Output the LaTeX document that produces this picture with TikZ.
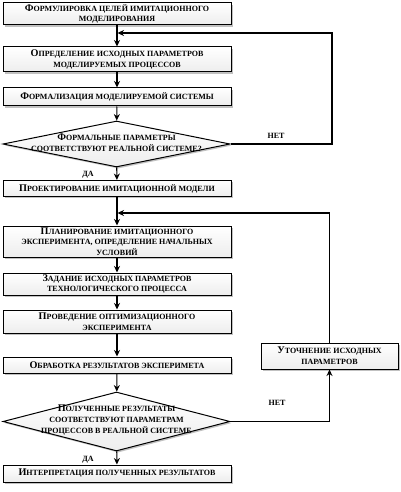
\documentclass[tikz,border=0pt]{standalone}
\usepackage{fontspec}
\setmainfont{Liberation Serif}
\usetikzlibrary{shapes.geometric,shadows,arrows.meta}
\newcommand{\Ini}[1]{{\fontsize{10.2}{10}\selectfont #1}}
\tikzset{
 shad/.style={drop shadow={shadow xshift=1.6pt, shadow yshift=-1.6pt, fill=gray!60, opacity=0.8}},
 box/.style={draw, line width=1pt, rectangle, minimum width=228pt, inner sep=0pt, align=center,
   font=\bfseries\fontsize{8}{10.8}\selectfont, top color=white, bottom color=gray!14, shad},
 dia/.style={draw, diamond, line width=1pt, minimum width=227pt, inner sep=0pt,
   top color=white, bottom color=gray!14, shad},
 dtext/.style={align=center, inner sep=0pt, font=\bfseries\fontsize{8}{10.8}\selectfont},
 arr/.style={line width=1.1pt, -{Stealth[length=6.5pt,width=6pt]}},
 lbl/.style={inner sep=0pt, font=\bfseries\fontsize{8}{9}\selectfont}
}
\begin{document}
\begin{tikzpicture}[x=1pt,y=-1pt]
\useasboundingbox (0,0) rectangle (401,492);
\node[box, minimum height=22pt] (b1) at (117,14) {\Ini{Ф}ОРМУЛИРОВКА ЦЕЛЕЙ ИМИТАЦИОННОГО\\МОДЕЛИРОВАНИЯ};
\node[box, minimum height=25pt] (b2) at (117,59.5) {\Ini{О}ПРЕДЕЛЕНИЕ ИСХОДНЫХ ПАРАМЕТРОВ\\МОДЕЛИРУЕМЫХ ПРОЦЕССОВ};
\node[box, minimum height=18pt] (b3) at (117,97) {\Ini{Ф}ОРМАЛИЗАЦИЯ МОДЕЛИРУЕМОЙ СИСТЕМЫ};
\node[dia, minimum height=46pt] (d1) at (116.5,144) {};
\node[dtext] (d1t) at (116.5,143) {\Ini{Ф}ОРМАЛЬНЫЕ ПАРАМЕТРЫ\\СООТВЕТСТВУЮТ РЕАЛЬНОЙ СИСТЕМЕ?};
\node[box, minimum height=16pt] (b4) at (117,188.5) {\Ini{П}РОЕКТИРОВАНИЕ ИМИТАЦИОННОЙ МОДЕЛИ};
\node[box, minimum height=31pt] (b5) at (117,241.5) {\Ini{П}ЛАНИРОВАНИЕ ИМИТАЦИОННОГО\\ЭКСПЕРИМЕНТА, ОПРЕДЕЛЕНИЕ НАЧАЛЬНЫХ\\УСЛОВИЙ};
\node[box, minimum height=22pt] (b6) at (117,284) {\Ini{З}АДАНИЕ ИСХОДНЫХ ПАРАМЕТРОВ\\ТЕХНОЛОГИЧЕСКОГО ПРОЦЕССА};
\node[box, minimum height=23pt] (b7) at (117,321.5) {\Ini{П}РОВЕДЕНИЕ ОПТИМИЗАЦИОННОГО\\ЭКСПЕРИМЕНТА};
\node[box, minimum height=16pt] (b8) at (117,365) {\Ini{О}БРАБОТКА РЕЗУЛЬТАТОВ ЭКСПЕРИМЕТА};
\node[dia, minimum height=59pt] (d2) at (116.5,421.5) {};
\node[dtext] (d2t) at (116.5,420) {\Ini{П}ОЛУЧЕННЫЕ РЕЗУЛЬТАТЫ\\СООТВЕТСТВУЮТ ПАРАМЕТРАМ\\ПРОЦЕССОВ В РЕАЛЬНОЙ СИСТЕМЕ};
\node[box, minimum height=17pt] (b9) at (117,473.5) {\Ini{И}НТЕРПРЕТАЦИЯ ПОЛУЧЕННЫХ РЕЗУЛЬТАТОВ};
\node[box, minimum width=137pt, minimum height=26pt] (bR) at (329.5,356) {\Ini{У}ТОЧНЕНИЕ ИСХОДНЫХ\\ПАРАМЕТРОВ};

\coordinate (j1) at (117.5,33);
\coordinate (c1) at (332,33);
\coordinate (j2) at (117.5,213);

\draw[arr] (b1) -- (b2);
\draw[arr] (b2) -- (b3);
\draw[arr] (b3) -- (d1);
\draw[arr] (d1) -- (b4);
\draw[arr] (b4) -- (b5);
\draw[arr] (b5) -- (b6);
\draw[arr] (b6) -- (b7);
\draw[arr] (b7) -- (b8);
\draw[arr] (b8) -- (d2);
\draw[arr] (d2) -- (b9);
\draw[arr] (d1.east) -| (c1) -- (j1);
\draw[arr] (bR.north) |- (j2);
\draw[arr] (d2.east) -| (bR.south);

\node[lbl] (n1) at (276,136) {НЕТ};
\node[lbl] (n2) at (277,403) {НЕТ};
\node[lbl] (y1) at (88,175) {ДА};
\node[lbl] (y2) at (88,460) {ДА};
\end{tikzpicture}
\end{document}
